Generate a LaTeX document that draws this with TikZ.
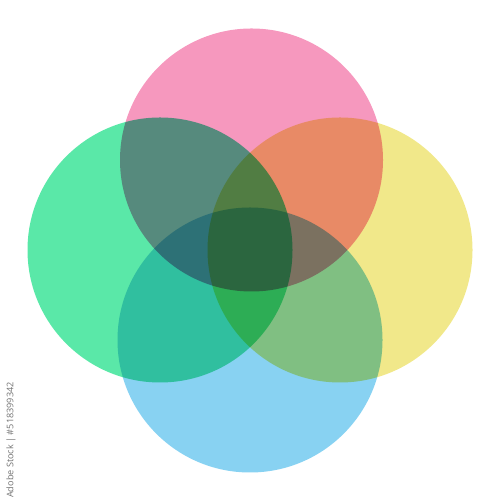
\documentclass[tikz,border=0pt]{standalone}
\usepackage{fontspec}
\newfontfamily\stockfont{Open Sans}
\definecolor{vennpink}{RGB}{246,152,190}
\definecolor{venngreen}{RGB}{90,232,168}
\definecolor{vennyellow}{RGB}{241,232,138}
\definecolor{vennblue}{RGB}{136,210,242}
\tikzset{
  venn/.style={draw=none}
}
\begin{document}
\begin{tikzpicture}
\useasboundingbox (0,0) rectangle (10,10);
\begin{scope}[blend group=multiply]
\fill[venn,vennpink] (5.03,6.8) circle (2.63);
\fill[venn,venngreen] (3.2,5) circle (2.65);
\fill[venn,vennyellow] (6.8,5) circle (2.65);
\fill[venn,vennblue] (5,3.2) circle (2.65);
\end{scope}

\node[rotate=90,text=black!55,font=\stockfont\fontsize{5.2}{6}\selectfont] (stock) at (0.22,1.2) {Adobe Stock | \#518399342};
\end{tikzpicture}
\end{document}
